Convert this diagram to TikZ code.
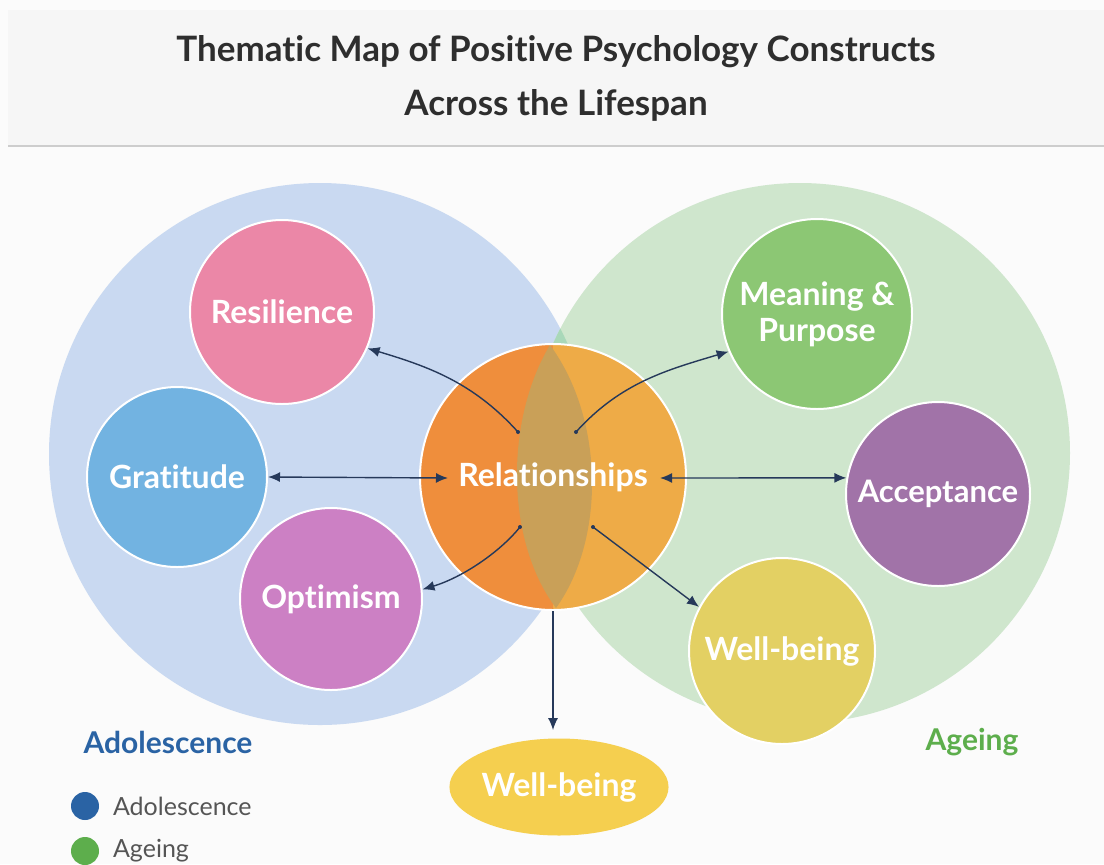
\documentclass[tikz,border=0pt]{standalone}
\usepackage{fontspec}
\setmainfont{Lato}[Ligatures=NoCommon]
\usetikzlibrary{arrows.meta,shapes.geometric}
\definecolor{pagewhite}{HTML}{FBFBFB}
\definecolor{headgray}{HTML}{F6F6F6}
\definecolor{rulegray}{HTML}{CDCDCD}
\definecolor{titlegray}{HTML}{2E2E2E}
\definecolor{adoblue}{HTML}{C9D9F1}
\definecolor{agegreen}{HTML}{CFE6CD}
\definecolor{overlapgreen}{HTML}{A9D8B9}
\definecolor{orleft}{HTML}{EF8E3C}
\definecolor{orright}{HTML}{EEAB47}
\definecolor{orlens}{HTML}{C9A058}
\definecolor{respink}{HTML}{EB87A7}
\definecolor{gratblue}{HTML}{72B3E1}
\definecolor{optpink}{HTML}{CC80C4}
\definecolor{meangreen}{HTML}{8CC774}
\definecolor{accpurple}{HTML}{A173A8}
\definecolor{wbyellow}{HTML}{E3D063}
\definecolor{wbgold}{HTML}{F5CF4F}
\definecolor{linkblue}{HTML}{26395A}
\definecolor{adotext}{HTML}{2A63A4}
\definecolor{agetext}{HTML}{5DAE4C}
\definecolor{legendgray}{HTML}{555555}
\begin{document}
\begin{tikzpicture}[x=0.5pt,y=-0.5pt,
		bubble/.style={circle,draw=white,line width=1pt,text=white,align=center,inner sep=0pt,font=\fontsize{16}{18}\selectfont\bfseries},
		link/.style={draw=linkblue,line width=0.7pt,-{Latex[length=6pt,width=5pt]}},
		twolink/.style={link,{Latex[length=6pt,width=5pt]}-{Latex[length=6pt,width=5pt]}},
		dot/.style={fill=linkblue}]
	\useasboundingbox (0,0) rectangle (1104,864);
	\fill[pagewhite] (0,0) rectangle (1104,864);
	\fill[headgray] (8,10) rectangle (1104,145);
	\draw[rulegray,line width=1pt] (8,146) -- (1104,146);
	\node[text=titlegray,font=\fontsize{17.5}{20}\selectfont\bfseries] (title) at (556,52) {Thematic Map of Positive Psychology Constructs};
	\node[text=titlegray,font=\fontsize{17.5}{20}\selectfont\bfseries] (subtitle) at (556,105) {Across the Lifespan};
	\fill[adoblue] (320,454) circle[radius=135.5pt];
	\fill[agegreen] (800,453) circle[radius=135pt];
	\begin{scope}
		\clip (320,454) circle[radius=135.5pt];
		\fill[overlapgreen] (800,453) circle[radius=135pt];
	\end{scope}
	\begin{scope}
		\clip (553,477) circle[radius=66.5pt];
		\fill[orleft] (410,335) rectangle (553,620);
		\fill[orright] (553,335) rectangle (695,620);
		\fill[orlens] (550,345) .. controls (505,420) and (505,540) .. (556,608) .. controls (605,540) and (605,420) .. (550,345);
	\end{scope}
	\node[bubble,minimum size=133pt] (rel) at (553,477) {Relationships};
	\node[bubble,fill=respink,minimum size=92pt] (res) at (282,312) {Resilience};
	\node[bubble,fill=gratblue,minimum size=90pt] (grat) at (177,477) {Gratitude};
	\node[bubble,fill=optpink,minimum size=91pt] (opt) at (331,599) {Optimism};
	\node[bubble,fill=meangreen,minimum size=95pt] (mean) at (817,314) {Meaning \&\\Purpose};
	\node[bubble,fill=accpurple,minimum size=92pt,font=\fontsize{15.5}{18}\selectfont\bfseries] (acc) at (938,494) {Acceptance};
	\node[bubble,fill=wbyellow,minimum size=93pt] (wbr) at (782,651) {Well-being};
	\node[ellipse,fill=wbgold,text=white,inner sep=0pt,minimum width=104pt,minimum height=48.5pt,font=\fontsize{16}{18}\selectfont\bfseries] (wbb) at (559,787) {Well-being};
	\coordinate (relNW) at (518,432);
	\coordinate (relNE) at (576,432);
	\coordinate (relSW) at (520,527);
	\coordinate (relSE) at (593,527);
	\coordinate (relW) at (448,478);
	\coordinate (relE) at (660,478);
	\draw[twolink] (grat.east) -- (relW);
	\draw[twolink] (relE) -- (acc.170);
	\draw[link] (relNW) .. controls +(-45,-50) and +(60,18) .. (res.337);
	\draw[link] (relNE) .. controls +(45,-50) and +(-60,18) .. (mean.203);
	\draw[link] (relSW) .. controls +(-20,25) and +(40,-12) .. (opt.6);
	\draw[link] (relSE) -- (wbr.152);
	\draw[link,shorten >=4pt] (rel.south) -- (rel.south |- wbb.north);
	\foreach \p in {relNW,relNE,relSW,relSE}
		\fill[dot] (\p) circle[radius=1pt];
	\node[text=adotext,font=\fontsize{15}{18}\selectfont\bfseries] (adolabel) at (168,742) {Adolescence};
	\node[text=agetext,font=\fontsize{15}{18}\selectfont\bfseries] (agelabel) at (972,742) {Ageing};
	\fill[adotext] (85,806) circle[radius=7pt];
	\fill[agetext] (85,851) circle[radius=7pt];
	\node[anchor=west,text=legendgray,font=\fontsize{12.5}{15}\selectfont] (adolegend) at (106,806) {Adolescence};
	\node[anchor=west,text=legendgray,font=\fontsize{12.5}{15}\selectfont] (agelegend) at (106,851) {Ageing};
\end{tikzpicture}
\end{document}
